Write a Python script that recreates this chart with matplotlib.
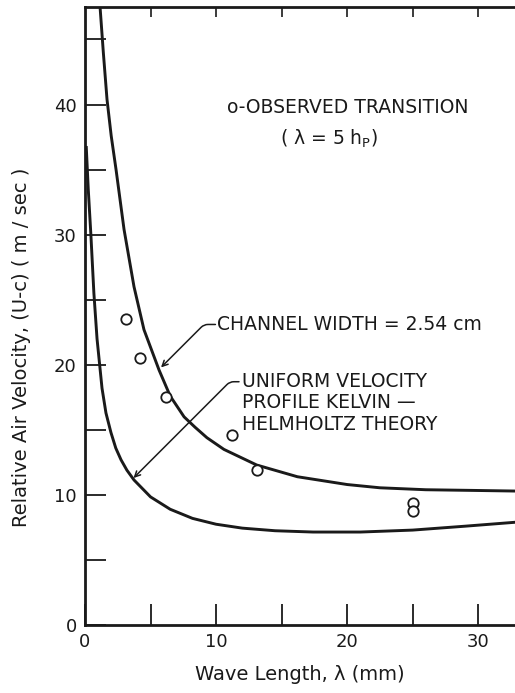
import matplotlib
matplotlib.use('Agg')
from matplotlib import pyplot as plt

# channel width = 2.54 cm curve
channel_x = [1.15, 1.4, 1.68, 2.0, 2.37, 2.98, 3.74, 4.5, 5.65, 6.5, 7.56, 8.4, 9.3, 10.6, 13.1, 16.2, 20.0, 22.5, 26.0, 29.5, 32.8]
channel_y = [47.5, 44.0, 40.4, 37.6, 35.0, 30.4, 26.0, 22.7, 19.6, 17.6, 16.0, 15.2, 14.4, 13.5, 12.3, 11.4, 10.8, 10.55, 10.4, 10.35, 10.3]

# uniform velocity profile Kelvin-Helmholtz theory
kh_x = [0.1, 0.25, 0.45, 0.68, 0.92, 1.3, 1.6, 1.98, 2.35, 2.75, 3.2, 3.74, 5.0, 6.5, 8.2, 10.0, 12.0, 14.5, 17.4, 21.0, 25.0, 29.0, 32.8]
kh_y = [36.7, 33.5, 30.0, 25.5, 22.0, 18.2, 16.3, 14.8, 13.6, 12.7, 11.9, 11.15, 9.85, 8.9, 8.2, 7.75, 7.45, 7.25, 7.15, 7.15, 7.3, 7.6, 7.9]

# observed transition points
obs_x = [3.1, 4.2, 6.2, 11.2, 13.1, 25.0, 25.0]
obs_y = [23.5, 20.5, 17.5, 14.6, 11.9, 9.4, 8.8]

plt.rcParams['font.family'] = ['DejaVu Sans']
ink = '#1a1a1a'

fig = plt.figure(figsize=(5.15, 6.93), dpi=100)
ax = fig.add_axes([0.165, 0.098, 0.835, 0.892])

ax.plot(channel_x, channel_y, color=ink, lw=2.1, solid_joinstyle='round')
ax.plot(kh_x, kh_y, color=ink, lw=2.1, solid_joinstyle='round')
ax.plot(obs_x, obs_y, 'o', mfc='white', mec=ink, ms=7.5, mew=1.3, ls='none')

ax.set_xlim(0, 32.8)
ax.set_ylim(0, 47.5)

ax.set_xticks([0, 5, 10, 15, 20, 25, 30])
ax.set_xticklabels(['0', '', '10', '', '20', '', '30'])
ax.set_yticks([0, 5, 10, 15, 20, 25, 30, 35, 40, 45])
ax.set_yticklabels(['0', '', '10', '', '20', '', '30', '', '40', ''])
ax.tick_params(direction='in', length=15, width=1.3, labelsize=13, colors=ink, pad=6)

top = ax.secondary_xaxis('top')
top.set_xticks([5, 10, 15, 20, 25, 30])
top.set_xticklabels([])
top.tick_params(direction='in', length=7, width=1.2, colors=ink)
top.spines['top'].set_visible(False)

for side in ['left', 'bottom', 'top']:
    ax.spines[side].set_linewidth(2.0)
    ax.spines[side].set_color(ink)
ax.spines['right'].set_visible(False)

ax.set_xlabel('Wave Length, λ (mm)', fontsize=14, color=ink, labelpad=10)
ax.set_ylabel('Relative Air Velocity, (U-c) ( m / sec )', fontsize=14, color=ink, labelpad=12)
ax.yaxis.set_label_coords(-0.125, 0.45)

txt = dict(fontsize=13.5, color=ink, va='center', ha='left')
ax.text(10.8, 39.8, 'o-OBSERVED TRANSITION', **txt)
ax.text(14.9, 37.4, '( λ = 5 h$_\\mathrm{P}$)', **txt)

arrow = dict(arrowstyle='->', color=ink, lw=1.1, shrinkA=0, shrinkB=0,
             connectionstyle='angle,angleA=0,angleB=45,rad=4')

# channel width leader
ax.text(10.1, 23.1, 'CHANNEL WIDTH = 2.54 cm', **txt)
ax.annotate('', xy=(5.8, 19.8), xytext=(9.95, 23.1), arrowprops=arrow)

# KH theory leader
ax.text(11.95, 18.7, 'UNIFORM VELOCITY', **txt)
ax.text(11.95, 17.1, 'PROFILE KELVIN —', **txt)
ax.text(11.95, 15.4, 'HELMHOLTZ THEORY', **txt)
ax.annotate('', xy=(3.7, 11.3), xytext=(11.75, 18.7), arrowprops=arrow)

fig.savefig('out.png', dpi=100, facecolor='white')
